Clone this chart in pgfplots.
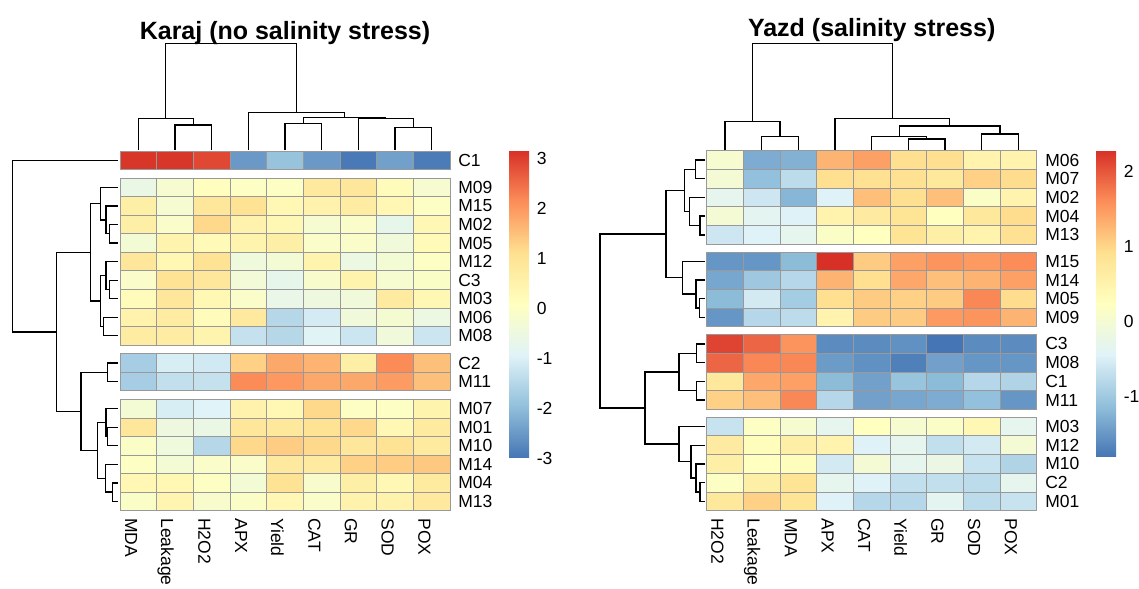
\documentclass[border=0pt]{standalone}
\usepackage{pgfplots}
\pgfplotsset{compat=1.18}
\usepackage{pgfplotstable}
\usepackage{fontspec}
\setmainfont{Liberation Sans}
\definecolor{grey60}{HTML}{999999}
\pgfdeclareplotmark{cellL}{\pgfpathrectangle{\pgfpoint{-11pt}{-5.565pt}}{\pgfpoint{22pt}{11.13pt}}\pgfusepathqfillstroke}
\pgfdeclareplotmark{cellR}{\pgfpathrectangle{\pgfpoint{-11pt}{-5.61pt}}{\pgfpoint{22pt}{11.22pt}}\pgfusepathqfillstroke}
\newcommand\lbl{\fontsize{10.5}{12}\selectfont}
\newcommand\ttl{\fontsize{15}{18}\selectfont\bfseries}

% Karaj: columns MDA Leakage H2O2 APX Yield CAT GR SOD POX
\pgfplotstableread{
name r g c0 c1 c2 c3 c4 c5 c6 c7 c8
C1   0 0  3.10  3.10  2.90 -2.50 -1.90 -2.50 -2.95 -2.40 -2.90
M09  1 1 -0.60 -0.20  0.10  0.00  0.00  0.80  0.90  0.20 -0.20
M15  2 1  0.60 -0.20  0.90  1.00  0.30  0.50  0.70  0.35  0.00
M02  3 1  0.60 -0.10  1.20  0.50  0.30 -0.20 -0.10 -0.70  0.30
M05  4 1 -0.30  0.45  0.25  0.45  0.60 -0.10 -0.10 -0.40  0.25
M12  5 1  0.90  0.30  1.00 -0.45 -0.30  0.45 -0.55 -0.30  0.00
C3   6 1 -0.10  1.00  0.90 -0.35 -0.70 -0.15  0.45 -0.20 -0.05
M03  7 1  0.20  0.90  0.30 -0.10 -0.65 -0.50 -0.40  0.75  0.30
M06  8 1  0.50  0.70  0.20  0.80 -1.50 -1.10 -0.40 -0.25 -0.55
M08  9 1  0.70  0.70  0.45 -1.30 -1.50 -0.90 -1.20 -0.40 -1.20
C2  10 2 -1.70 -1.05 -1.15  1.30  1.80  1.65  0.60  2.15  1.50
M11 11 2 -1.70 -1.35 -1.30  2.15  2.00  1.80  1.80  1.95  1.50
M07 12 3 -0.30 -1.05 -0.95  0.50  0.30  1.20  0.00  0.00  0.45
M01 13 3  0.90 -0.50 -0.60  0.90  0.85  1.00  1.20  0.30  0.75
M10 14 3 -0.05 -0.45 -1.50  1.20  1.35  1.20  0.90  1.00  0.75
M14 15 3  0.00 -0.30 -0.10 -0.10  0.80  0.75  1.30  1.35  1.40
M04 16 3  0.35  0.30  0.00 -0.30  1.00 -0.15  0.60  0.30  0.75
M13 17 3 -0.05  0.40 -0.15 -0.05  0.35 -0.10  0.50  0.50  0.80
}\karaj
\pgfplotstableread{
c name
0 MDA
1 Leakage
2 H2O2
3 APX
4 Yield
5 CAT
6 GR
7 SOD
8 POX
}\karajcols

% Yazd: columns H2O2 Leakage MDA APX CAT Yield GR SOD POX
\pgfplotstableread{
name r g c0 c1 c2 c3 c4 c5 c6 c7 c8
M06  0 0  0.05 -1.30 -1.25  1.30  1.45  0.93  0.93  0.50  0.50
M07  1 0  0.00 -1.10 -0.75  0.93  0.90  0.90  0.75  1.05  0.95
M02  2 0 -0.30 -0.60 -1.20 -0.45  1.20  0.93  1.20  0.15  0.50
M04  3 0  0.00 -0.35 -0.45  0.50  0.70  0.85  0.25  0.75  0.95
M13  4 0 -0.60 -0.45 -0.30  0.15  0.25  0.85  0.60  0.50  0.90
M15  5 1 -1.50 -1.50 -1.15  2.29  1.10  1.45  1.55  1.50  1.61
M14  6 1 -1.35 -1.00 -0.80  1.30  0.93  1.40  1.20  1.30  1.45
M05  7 1 -1.15 -0.55 -0.95  0.93  1.10  1.05  1.10  1.65  0.95
M09  8 1 -1.50 -0.80 -0.75  0.50  1.10  1.10  1.50  1.55  1.30
C3   9 2  2.15  1.90  1.55 -1.60 -1.60 -1.55 -1.80 -1.60 -1.60
M08 10 2  1.90  1.65  1.65 -1.45 -1.55 -1.70 -1.40 -1.50 -1.50
C1  11 2  0.75  1.40  1.45 -1.15 -1.40 -1.05 -1.15 -0.80 -0.85
M11 12 2  1.05  1.20  1.65 -0.80 -1.40 -1.35 -1.30 -1.10 -1.50
M03 13 3 -0.65  0.20  0.05 -0.30  0.25  0.05  0.15  0.40 -0.30
M12 14 3  0.70  0.30  0.60  0.50 -0.45 -0.30 -0.70 -0.55  0.00
M10 15 3  0.60  0.25  0.30 -0.55  0.00 -0.30 -0.20 -0.65 -0.85
C2  16 3  0.20  0.60  0.85 -0.30 -0.45 -0.70 -0.70 -0.75 -0.30
M01 17 3  0.75  1.05  0.85 -0.45 -0.80 -0.80 -0.35 -0.75 -0.65
}\yazd
\pgfplotstableread{
c name
0 H2O2
1 Leakage
2 MDA
3 APX
4 CAT
5 Yield
6 GR
7 SOD
8 POX
}\yazdcols

\pgfplotsset{
  panel/.style={
    width=683.4pt, height=353.4pt, scale only axis,
    xmin=0, xmax=1139, ymin=0, ymax=589, y dir=reverse,
    axis lines=none, xtick=\empty, ytick=\empty, clip=false,
    at={(0,0)}, anchor=south west,
    colormap={rdylbu}{rgb255=(69,117,180) rgb255=(145,191,219) rgb255=(224,243,248) rgb255=(255,255,191) rgb255=(254,224,144) rgb255=(252,141,89) rgb255=(215,48,39)},
    unbounded coords=jump,
    colorbar,
  },
  cbar/.style={
    at={(parent axis.north west)}, anchor=north west,
    width=12pt, scale only axis,
    yticklabel pos=right,
    major tick length=0pt,
    axis line style={draw=none},
    yticklabel style={font=\lbl, /pgf/number format/assume math mode=true, xshift=1pt},
  },
  cells/.style={scatter, only marks,
    scatter/use mapped color={draw=grey60, fill=mapped color},
    mark options={line width=0.5pt}},
  dendro/.style={black, line width=0.8pt, mark=none},
  rowlab/.style={draw=none, mark=none, point meta=explicit symbolic, nodes near coords,
    nodes near coords style={anchor=west, inner sep=0pt, font=\lbl, text=black}},
  collab/.style={draw=none, mark=none, point meta=explicit symbolic, nodes near coords,
    nodes near coords style={rotate=-90, anchor=north west, inner sep=0pt, font=\lbl, text=black}},
}

\begin{document}
\begin{tikzpicture}
% ---------------- Karaj ----------------
\begin{axis}[panel,
  point meta min=-3.0, point meta max=3.16,
  colorbar style={cbar, xshift=297pt, yshift=-90pt, height=184.8pt, ytick={-3,-2,...,3}}]
\pgfplotsinvokeforeach{0,...,8}{
  \addplot[cells, mark=cellL, point meta={\thisrow{c#1}}] table[x expr=138.33+36.667*#1, y expr=160.28+18.55*\thisrow{r}+8.6*\thisrow{g}] \karaj;
}
\addplot[rowlab] table[x expr=458, y expr=160.28+18.55*\thisrow{r}+8.6*\thisrow{g}, meta=name] \karaj;
\addplot[collab] table[x expr=137.5+36.667*\thisrow{c}, y expr=518, meta=name] \karajcols;
% column dendrogram
\addplot[dendro] coordinates {
(175,150)(175,125)(211.67,125)(211.67,150) (nan,nan)
(138.33,150)(138.33,118.3)(193.33,118.3)(193.33,125) (nan,nan)
(285,150)(285,123.3)(321.67,123.3)(321.67,150) (nan,nan)
(395,150)(395,127.7)(431.67,127.7)(431.67,150) (nan,nan)
(358.33,150)(358.33,118.3)(413.33,118.3)(413.33,127.7) (nan,nan)
(303.33,123.3)(303.33,117.3)(385.83,117.3)(385.83,118.3) (nan,nan)
(248.33,150)(248.33,112.3)(344.58,112.3)(344.58,117.3) (nan,nan)
(165.83,118.3)(165.83,43.3)(296.46,43.3)(296.46,112.3)
};
% row dendrogram
\addplot[dendro] coordinates {
(118,224.53)(109.3,224.53)(109.3,243.08)(118,243.08) (nan,nan)
(118,205.98)(106,205.98)(106,233.8)(109.3,233.8) (nan,nan)
(118,187.43)(100.7,187.43)(100.7,219.9)(106,219.9) (nan,nan)
(118,280.18)(109.3,280.18)(109.3,298.73)(118,298.73) (nan,nan)
(118,261.63)(106,261.63)(106,289.46)(109.3,289.46) (nan,nan)
(118,317.28)(103.3,317.28)(103.3,335.83)(118,335.83) (nan,nan)
(106,275.54)(100.7,275.54)(100.7,326.56)(103.3,326.56) (nan,nan)
(100.7,203.67)(90.7,203.67)(90.7,301.05)(100.7,301.05) (nan,nan)
(118,362.98)(107.3,362.98)(107.3,381.53)(118,381.53) (nan,nan)
(118,427.23)(107.3,427.23)(107.3,445.78)(118,445.78) (nan,nan)
(118,408.68)(106,408.68)(106,436.5)(107.3,436.5) (nan,nan)
(118,482.88)(112.7,482.88)(112.7,501.43)(118,501.43) (nan,nan)
(118,464.33)(105.5,464.33)(105.5,492.16)(112.7,492.16) (nan,nan)
(106,422.59)(97.3,422.59)(97.3,478.24)(105.5,478.24) (nan,nan)
(107.3,372.26)(81,372.26)(81,450.42)(97.3,450.42) (nan,nan)
(90.7,252.36)(56.7,252.36)(56.7,411.34)(81,411.34) (nan,nan)
(118,160.28)(12.7,160.28)(12.7,331.85)(56.7,331.85)
};
\node[font=\ttl, anchor=base] at (axis cs:285,40) {Karaj (no salinity stress)};
\end{axis}
% ---------------- Yazd ----------------
\begin{axis}[panel,
  point meta min=-1.8, point meta max=2.29,
  colorbar style={cbar, xshift=649.2pt, yshift=-90pt, height=184.2pt, ytick={-1,0,1,2}}]
\pgfplotsinvokeforeach{0,...,8}{
  \addplot[cells, mark=cellR, point meta={\thisrow{c#1}}] table[x expr=725+36.667*#1, y expr=160.05+18.7*\thisrow{r}+7.8*\thisrow{g}] \yazd;
}
\addplot[rowlab] table[x expr=1045, y expr=160.05+18.7*\thisrow{r}+7.8*\thisrow{g}, meta=name] \yazd;
\addplot[collab] table[x expr=724+36.667*\thisrow{c}, y expr=518, meta=name] \yazdcols;
\addplot[dendro] coordinates {
(761.67,150)(761.67,136.7)(798.33,136.7)(798.33,150) (nan,nan)
(725,150)(725,121.7)(780,121.7)(780,136.7) (nan,nan)
(908.33,150)(908.33,139)(945,139)(945,150) (nan,nan)
(871.67,150)(871.67,136.7)(926.67,136.7)(926.67,139) (nan,nan)
(981.67,150)(981.67,134)(1018.33,134)(1018.33,150) (nan,nan)
(899.17,136.7)(899.17,126)(1000,126)(1000,134) (nan,nan)
(835,150)(835,118.3)(949.58,118.3)(949.58,126) (nan,nan)
(752.5,121.7)(752.5,43.3)(892.29,43.3)(892.29,118.3)
};
\addplot[dendro] coordinates {
(705,160.05)(695.7,160.05)(695.7,178.75)(705,178.75) (nan,nan)
(705,216.15)(700,216.15)(700,234.85)(705,234.85) (nan,nan)
(705,197.45)(689.3,197.45)(689.3,225.5)(700,225.5) (nan,nan)
(695.7,169.4)(684.3,169.4)(684.3,211.48)(689.3,211.48) (nan,nan)
(705,298.75)(699.3,298.75)(699.3,317.45)(705,317.45) (nan,nan)
(705,280.05)(696,280.05)(696,308.1)(699.3,308.1) (nan,nan)
(705,261.35)(682.7,261.35)(682.7,294.08)(696,294.08) (nan,nan)
(684.3,190.44)(666,190.44)(666,277.72)(682.7,277.72) (nan,nan)
(705,343.95)(696.7,343.95)(696.7,362.65)(705,362.65) (nan,nan)
(705,381.35)(696.7,381.35)(696.7,400.05)(705,400.05) (nan,nan)
(696.7,353.3)(679,353.3)(679,390.7)(696.7,390.7) (nan,nan)
(705,482.65)(700,482.65)(700,501.35)(705,501.35) (nan,nan)
(705,463.95)(696,463.95)(696,492)(700,492) (nan,nan)
(705,445.25)(691,445.25)(691,477.98)(696,477.98) (nan,nan)
(705,426.55)(679,426.55)(679,461.61)(691,461.61) (nan,nan)
(679,372)(645,372)(645,444.08)(679,444.08) (nan,nan)
(666,234.08)(600,234.08)(600,408.04)(645,408.04)
};
\node[font=\ttl, anchor=base] at (axis cs:871.7,37) {Yazd (salinity stress)};
\end{axis}
\pgfresetboundingbox
\useasboundingbox (0,0) rectangle (683.4pt,353.4pt);
\end{tikzpicture}
\end{document}
